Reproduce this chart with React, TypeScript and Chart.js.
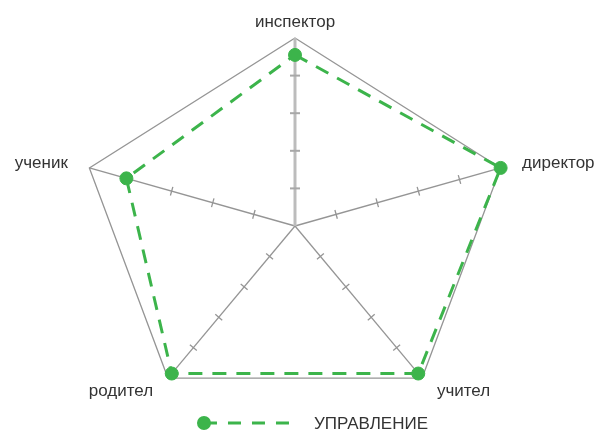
import React, { useEffect, useRef } from 'react';
import { Chart, registerables, RadialLinearScale } from 'chart.js';

Chart.register(...registerables);

const CATEGORIES = ['инспектор', 'директор', 'учител', 'родител', 'ученик'];
const SERIES_NAME = 'УПРАВЛЕНИЕ';
const SERIES_VALUES = [4.55, 5, 4.85, 4.85, 4.1];
const SCALE_MIN = 0;
const SCALE_MAX = 5;
const SCALE_STEP = 1;

const X_STRETCH = 1.15;
const GREEN = 'rgb(60, 180, 75)';
const GRID = '#959595';
const MAIN_AXIS = '#bcbcbc';
const TEXT = '#333333';
const FONT = '"Liberation Sans", Arial, sans-serif';
const FONT_SIZE = 17;

class StretchedRadialScale extends (RadialLinearScale as any) {
  static id = 'stretchedRadial';
  static defaults = (RadialLinearScale as any).defaults;
  getPointPosition(index: number, distance: number, additionalAngle = 0) {
    const p = super.getPointPosition(index, distance, additionalAngle);
    return { x: this.xCenter + (p.x - this.xCenter) * X_STRETCH, y: p.y, angle: p.angle };
  }
}
Chart.register(StretchedRadialScale as any);

const axisTicksPlugin = {
  id: 'axisTicks',
  beforeDatasetsDraw(chart: any) {
    const s = chart.scales.r;
    const ctx = chart.ctx;
    ctx.save();
    s.ticks.forEach((t: any) => {
      if (t.value <= SCALE_MIN || t.value >= SCALE_MAX) return;
      for (let i = 0; i < CATEGORIES.length; i++) {
        const p = s.getPointPositionForValue(i, t.value);
        const dx = p.x - s.xCenter;
        const dy = p.y - s.yCenter;
        const len = Math.hypot(dx, dy) || 1;
        const nx = -dy / len;
        const ny = dx / len;
        const h = i === 0 ? 5 : 4.5;
        ctx.beginPath();
        ctx.strokeStyle = i === 0 ? '#a8a8a8' : GRID;
        ctx.lineWidth = i === 0 ? 2 : 1.3;
        ctx.moveTo(p.x - nx * h, p.y - ny * h);
        ctx.lineTo(p.x + nx * h, p.y + ny * h);
        ctx.stroke();
      }
    });
    ctx.restore();
  },
};

const labelsPlugin = {
  id: 'pointLabelsCustom',
  afterDraw(chart: any) {
    const s = chart.scales.r;
    const ctx = chart.ctx;
    ctx.save();
    ctx.font = `${FONT_SIZE}px ${FONT}`;
    ctx.fillStyle = TEXT;
    ctx.textBaseline = 'middle';
    CATEGORIES.forEach((label, i) => {
      const p = s.getPointPosition(i, s.drawingArea + 16);
      let x = p.x;
      if (p.x > s.xCenter + 1) {
        ctx.textAlign = 'left';
        x += 4;
      } else if (p.x < s.xCenter - 1) {
        ctx.textAlign = 'right';
        x -= 4;
      } else {
        ctx.textAlign = 'center';
      }
      ctx.fillText(label, x, p.y);
    });
    ctx.restore();
  },
};

const legendPlugin = {
  id: 'lineLegend',
  afterDraw(chart: any) {
    const ctx = chart.ctx;
    ctx.save();
    ctx.font = `${FONT_SIZE}px ${FONT}`;
    const textW = ctx.measureText(SERIES_NAME).width;
    const markerW = 97;
    const gap = 20;
    const groupW = markerW + gap + textW;
    const left = (chart.width - groupW) / 2 + 13;
    const y = chart.height - 9;
    ctx.strokeStyle = GREEN;
    ctx.lineWidth = 3;
    ctx.setLineDash([13, 11]);
    ctx.beginPath();
    ctx.moveTo(left + 7, y);
    ctx.lineTo(left + markerW, y);
    ctx.stroke();
    ctx.setLineDash([]);
    ctx.fillStyle = GREEN;
    ctx.beginPath();
    ctx.arc(left + 7, y, 7, 0, Math.PI * 2);
    ctx.fill();
    ctx.fillStyle = TEXT;
    ctx.textAlign = 'left';
    ctx.textBaseline = 'middle';
    ctx.fillText(SERIES_NAME, left + markerW + gap, y + 1);
    ctx.restore();
  },
};

export default function App() {
  const canvasRef = useRef<HTMLCanvasElement | null>(null);

  useEffect(() => {
    if (!canvasRef.current) return;
    const chart = new Chart(canvasRef.current, {
      type: 'radar',
      data: {
        labels: CATEGORIES,
        datasets: [
          {
            label: SERIES_NAME,
            data: SERIES_VALUES,
            borderColor: GREEN,
            backgroundColor: GREEN,
            borderWidth: 3,
            borderDash: [14, 10],
            fill: false,
            pointRadius: 6.5,
            pointHoverRadius: 6.5,
            pointBackgroundColor: GREEN,
            pointBorderColor: GREEN,
            pointBorderWidth: 1,
          },
        ],
      },
      options: {
        animation: false,
        responsive: true,
        maintainAspectRatio: false,
        layout: { padding: { top: 38, bottom: 18, left: 0, right: 9 } },
        plugins: {
          legend: { display: false },
          tooltip: { enabled: false },
        },
        scales: {
          r: {
            type: 'stretchedRadial' as any,
            min: SCALE_MIN,
            max: SCALE_MAX,
            ticks: { display: false, stepSize: SCALE_STEP },
            pointLabels: { display: false },
            grid: {
              color: (c: any) => (c.tick && c.tick.value === SCALE_MAX ? GRID : 'rgba(0,0,0,0)'),
              lineWidth: 1.3,
            },
            angleLines: {
              color: (c: any) => (c.index === 0 ? MAIN_AXIS : GRID),
              lineWidth: (c: any) => (c.index === 0 ? 3 : 1.3),
            },
          } as any,
        },
      },
      plugins: [axisTicksPlugin, labelsPlugin, legendPlugin],
    });
    return () => chart.destroy();
  }, []);

  return (
    <div style={{ position: 'absolute', left: 0, top: 0, width: 599, height: 432 }}>
      <canvas ref={canvasRef} />
    </div>
  );
}
